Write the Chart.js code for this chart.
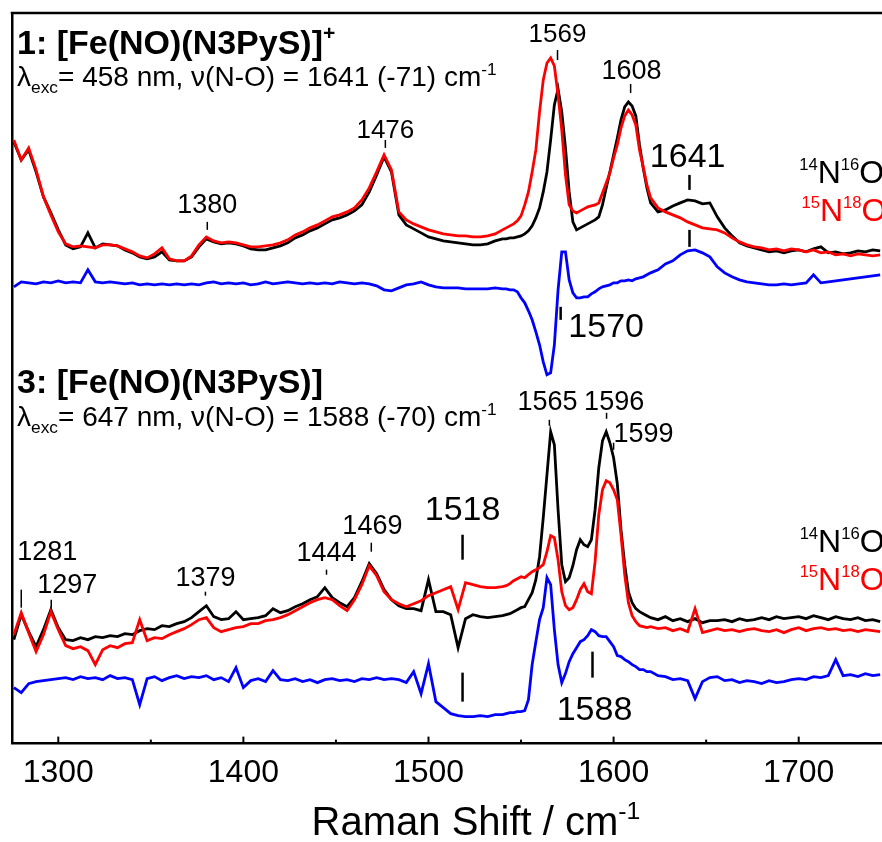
<!DOCTYPE html>
<html><head><meta charset="utf-8">
<script src="https://cdn.jsdelivr.net/npm/chart.js@4.4.0/dist/chart.umd.min.js"></script>
<style>html,body{margin:0;padding:0;background:#fff;} #wrap{width:882px;height:842px;position:relative;}</style>
</head><body><div id="wrap"><canvas id="c"></canvas></div>
<script>
const FONT = "'Liberation Sans', Arial, Helvetica, sans-serif";

// Raman shift (cm-1) sampling positions
const wavenumbers = [
 1276,1280,1284,1288,1292,1296,1300,1304,1308,1312,1316,1320,1324,1328,1332,1336,1340,1344,1348,1352,1356,1360,1364,1368,1372,1376,1380,1384,1388,1392,1396,1400,1404,1408,1412,1416,1420,1424,1428,1432,1436,1440,1444,1448,1452,1456,1460,1464,1468,1472,1476,1480,1484,1488,1492,1496,1500,1504,1508,1512,1516,1520,1524,1528,1532,1536,1540,
 1542,1544,1546,1548,1550,1552,1554,1556,1558,1560,1562,1564,1566,1568,1570,1572,1574,1576,1578,1580,1582,1584,1586,1588,1590,1592,1594,1596,1598,1600,1602,1604,1606,1608,1610,1612,1614,1616,1618,1620,
 1624,1628,1632,1636,1640,1644,1648,1652,1656,1660,1664,1668,1672,1676,1680,1684,1688,1692,1696,1700,1704,1708,1712,1716,1720,1724,1728,1732,1736,1740,1744
];

// Complex 1 (top, 458 nm), arbitrary offset intensity units
const top14N16O = [
 602,584,594,572,547,531,514,499,495,497,511,496,500,499,498,494,491,487,485,487,492,484,483,483,487,497,505,502,500,501,500,498,495,494,494,496,498,501,506,509,513,516,520,524,526,529,533,539,552,569,587,572,529,519,515,511,507,505,503,502,501,500,499,499,500,503,505,
 505,506,506,507,508,510,513,518,526,536,552,572,604,639,655,632,596,552,522,514,516,518,520,522,524,527,539,556,572,589,606,624,637,642,638,628,599,576,556,541,
 532,534,538,541,544,543,540,541,527,516,508,501,498,496,494,492,493,491,493,494,492,495,497,491,492,490,491,493,492,494,493
];
const top15N18O = [
 604,584,596,574,547,529,512,500,497,498,497,496,499,499,498,495,492,488,486,490,496,485,483,483,488,499,507,503,501,502,501,499,497,497,498,499,501,504,509,512,516,519,523,527,529,532,536,544,556,572,589,574,532,524,520,517,514,512,510,509,508,508,507,507,508,510,514,
 516,518,520,523,528,539,552,572,594,632,664,681,686,678,649,614,569,539,533,531,533,535,537,538,539,541,551,561,571,586,599,616,628,634,629,619,594,577,559,546,
 536,532,529,526,522,519,516,515,514,511,506,502,499,497,496,494,495,493,495,494,492,494,491,492,489,490,488,490,489,488,489
];
const topDiff = [
 457,462,461,460,462,461,463,461,462,461,474,462,461,462,461,460,461,459,460,459,460,459,460,459,460,459,461,462,460,461,460,461,459,460,462,460,461,462,461,460,461,460,461,460,462,461,460,461,460,458,454,453,456,459,460,462,459,457,456,456,456,455,455,455,455,456,455,
 455,454,454,452,446,441,433,424,412,399,382,369,371,399,454,492,492,464,451,446,446,447,447,450,452,455,457,458,459,461,461,463,463,464,463,465,466,467,469,471,
 474,480,483,489,493,494,491,487,477,471,467,464,462,461,460,459,459,460,459,460,461,469,461,462,463,464,465,466,467,468,469
];

// Complex 3 (bottom, 647 nm)
const bot14N16O = [
 104,129,112,97,114,134,116,104,103,106,104,107,106,108,107,110,109,113,115,114,118,117,120,122,126,132,138,127,124,125,132,124,125,126,128,135,131,133,137,140,144,147,156,146,141,137,146,162,180,170,154,144,138,135,135,133,164,132,132,129,96,125,129,127,126,127,128,
 129,130,132,134,136,137,144,151,164,187,226,269,312,299,234,179,162,166,178,194,204,199,197,204,234,276,303,312,301,286,260,214,179,152,141,135,132,130,128,126,
 124,127,123,125,122,125,121,123,123,124,122,125,123,124,126,124,127,125,126,127,125,128,126,124,127,125,124,126,123,124,122
];
const bot15N18O = [
 109,131,111,92,109,132,114,98,95,97,93,79,94,98,96,100,101,124,103,106,105,109,112,115,119,124,126,116,112,114,116,117,120,120,123,124,126,129,133,137,141,144,146,144,138,133,144,159,178,168,152,144,140,137,140,143,148,151,154,157,134,161,159,157,156,156,157,
 158,160,163,165,167,166,169,172,174,176,179,192,208,206,184,152,138,134,136,144,154,160,152,150,182,229,254,263,261,254,244,209,169,141,128,122,118,117,116,117,
 115,116,113,115,112,135,111,113,115,113,114,112,114,115,113,112,114,111,114,116,113,115,116,114,115,113,114,112,114,113,112
];
const botDiff = [
 56,51,60,62,63,64,65,66,64,67,65,66,64,68,65,66,64,39,65,67,63,66,68,65,67,66,68,64,66,62,76,56,63,65,62,73,64,63,65,62,64,61,64,65,63,64,62,65,64,66,64,65,64,61,72,50,80,42,36,30,28,27,27,28,27,29,29,
 30,31,31,32,32,33,44,79,102,124,136,166,159,114,79,61,70,82,90,96,102,104,108,114,112,108,107,107,102,97,88,87,84,82,79,77,74,74,72,72,
 68,67,64,65,63,45,62,66,67,63,64,61,63,62,60,63,61,62,64,65,64,67,66,68,84,68,69,67,70,68,69
];

const xTickValues = [1300, 1400, 1500, 1600, 1700];
const xMinorTicks = [1350, 1450, 1550, 1650];

// peak labels: text, wavenumber, baseline intensity, font size
const peakTexts = [
 ['1569',1569.7,702,26],['1608',1609.7,665,27],['1476',1476.7,606,26],['1380',1380.5,531,27],
 ['1641',1640,577,34],['1570',1596,407,34],
 ['1565',1564.3,334,27],['1596',1600.3,334,27],['1599',1616.2,302,27],['1518',1518.4,224,34],
 ['1469',1469.7,210,27],['1444',1444.9,183,27],['1281',1294,184,27],['1297',1304.9,151,27],
 ['1379',1379.5,158,27],['1588',1589.7,24,34]
];
// peak marker strokes: wavenumber, from, to, width
const peakMarks = [
 [1569.7,694,684,1.5],[1609.2,660,651,1.5],[1476.7,604,596,1.5],[1380.5,522,514,1.5],
 [1641,569,554,2.5],[1641,514,497,2.5],[1571.4,437,424,2.5],
 [1565.3,324,318,1.5],[1596.2,331,325,1.5],[1600,301,294,1.5],[1518.4,209,184,2.5],[1518.4,71,42,2.5],
 [1469.1,201,192,1.5],[1444.9,174,169,1.5],[1280,154,136,1.5],[1296.2,144,136,1.5],[1379.5,152,148,1.5],
 [1588.6,92,66,2.5]
];

function drawRich(ctx, x, y, segs, size, weight, color, align, supScale) {
  const sc = supScale || 0.62;
  const fnt = s => `${weight} ${s}px ${FONT}`;
  let total = 0;
  const parts = segs.map(([t, k]) => {
    const s = k ? size * sc : size;
    ctx.font = fnt(s);
    const w = ctx.measureText(t).width;
    total += w;
    return {t, k, s, w};
  });
  let cx = align === 'center' ? x - total / 2 : (align === 'right' ? x - total : x);
  ctx.fillStyle = color; ctx.textAlign = 'left'; ctx.textBaseline = 'alphabetic';
  parts.forEach(p => {
    ctx.font = fnt(p.s);
    const dy = p.k === 'sup' ? -size * 0.4 : (p.k === 'sub' ? size * 0.25 : 0);
    ctx.fillText(p.t, cx, y + dy);
    cx += p.w;
  });
}

const decor = {
  id: 'decor',
  afterDatasetsDraw(chart) {
    const {ctx, chartArea: ca, scales: {x, y}} = chart;
    ctx.save();
    ctx.strokeStyle = '#000';
    ctx.lineCap = 'butt';
    const seg = (x1, y1, x2, y2, w) => { ctx.lineWidth = w; ctx.beginPath(); ctx.moveTo(x1, y1); ctx.lineTo(x2, y2); ctx.stroke(); };
    // top frame line
    seg(ca.left - 1.25, ca.top, ca.right, ca.top, 2.5);
    // axis ticks (inward)
    xTickValues.forEach(v => { const p = x.getPixelForValue(v); seg(p, ca.bottom, p, ca.bottom - 7, 2); });
    xMinorTicks.forEach(v => { const p = x.getPixelForValue(v); seg(p, ca.bottom, p, ca.bottom - 4, 2); });
    // peak markers
    peakMarks.forEach(([w, a, b, lw]) => { const p = x.getPixelForValue(w); seg(p, y.getPixelForValue(a), p, y.getPixelForValue(b), lw); });
    // peak labels
    peakTexts.forEach(([t, w, iv, s]) => drawRich(ctx, x.getPixelForValue(w), y.getPixelForValue(iv), [[t, '']], s, 'normal', '#000', 'center'));
    // isotope legends
    const leg = (w, iv, a, b, col) => drawRich(ctx, x.getPixelForValue(w), y.getPixelForValue(iv), [[a, 'sup'], ['N', ''], [b, 'sup'], ['O', '']], 32, 'normal', col, 'left', 0.52);
    leg(1700.3, 561, '14', '16', '#000');
    leg(1701.5, 523, '15', '18', '#ff0000');
    leg(1700.5, 192, '14', '16', '#000');
    leg(1700.5, 154, '15', '18', '#ff0000');
    // panel titles
    const lx = ca.left + 5;
    drawRich(ctx, lx, 54, [['1: [Fe(NO)(N3PyS)]', ''], ['+', 'sup']], 34, 'bold', '#000', 'left');
    drawRich(ctx, lx, 86, [['λ', ''], ['exc', 'sub'], ['= 458 nm, ν(N-O) = 1641 (-71) cm', ''], ['-1', 'sup']], 28, 'normal', '#000', 'left');
    drawRich(ctx, lx, 393, [['3: [Fe(NO)(N3PyS)]', '']], 34, 'bold', '#000', 'left');
    drawRich(ctx, lx, 426, [['λ', ''], ['exc', 'sub'], ['= 647 nm, ν(N-O) = 1588 (-70) cm', ''], ['-1', 'sup']], 28, 'normal', '#000', 'left');
    // axis title
    drawRich(ctx, 476, 835, [['Raman Shift / cm', ''], ['-1', 'sup']], 40, 'normal', '#000', 'center');
    ctx.restore();
  }
};

const ds = (vals, color, order) => ({
  data: wavenumbers.map((w, i) => ({x: w, y: vals[i]})),
  borderColor: color, borderWidth: 2.8, pointRadius: 0, fill: false, tension: 0, order
});

new Chart(document.getElementById('c'), {
  type: 'line',
  data: {datasets: [
    ds(top15N18O, '#ff0000', 0), ds(top14N16O, '#000000', 1), ds(topDiff, '#0000ff', 2),
    ds(bot15N18O, '#ff0000', 0), ds(bot14N16O, '#000000', 1), ds(botDiff, '#0000ff', 2)
  ]},
  options: {
    responsive: true, maintainAspectRatio: false, animation: false, devicePixelRatio: 1,
    layout: {padding: {left: 12, right: 0, top: 13, bottom: 40}},
    plugins: {legend: {display: false}, tooltip: {enabled: false}},
    scales: {
      x: {
        type: 'linear', min: 1275, max: 1745,
        afterBuildTicks: s => { s.ticks = xTickValues.map(v => ({value: v})); },
        grid: {display: false, drawTicks: false},
        border: {display: true, color: '#000', width: 2.5},
        ticks: {color: '#000', font: {size: 32, family: FONT}, padding: 10, maxRotation: 0, autoSkip: false,
                callback: v => String(v)}
      },
      y: {
        type: 'linear', min: 0, max: 731,
        grid: {display: false, drawTicks: false},
        ticks: {display: false},
        border: {display: true, color: '#000', width: 2.5}
      }
    }
  },
  plugins: [decor]
});
</script>
</body></html>
